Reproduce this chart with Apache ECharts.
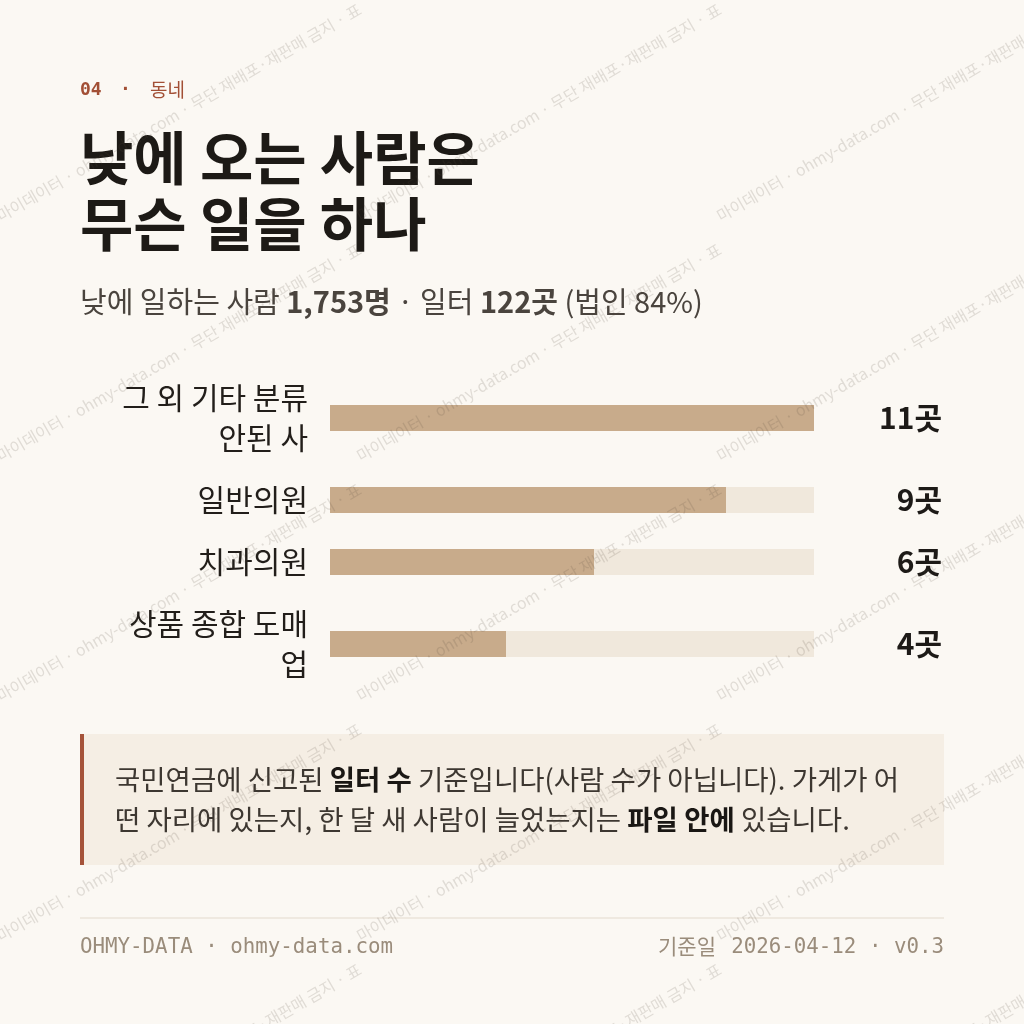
<!DOCTYPE html>
<html>
<head>
<meta charset="utf-8">
<script src="https://cdn.jsdelivr.net/npm/echarts@6/dist/echarts.min.js"></script>
<style>
  html, body { margin: 0; padding: 0; background: #fbf8f3; }
  #chart { width: 1024px; height: 1024px; }
</style>
</head>
<body>
<div id="chart"></div>
<script>
// ---- data ----
const categories = ['그 외 기타 분류 안된 사', '일반의원', '치과의원', '상품 종합 도매업'];
const values = [11, 9, 6, 4];
const valueUnit = '곳';
const valueMax = 11;

const kickerNum = '04';
const kickerText = '동네';
const titleLines = ['낮에 오는 사람은', '무슨 일을 하나'];
const subtitleParts = [
  ['r', '낮에 일하는 사람 '], ['b', '1,753명'], ['r', ' · 일터 '], ['b', '122곳'], ['r', ' (법인 84%)']
];
const noteLines = [
  [['r', '국민연금에 신고된 '], ['b', '일터 수'], ['r', ' 기준입니다(사람 수가 아닙니다). 가게가 어']],
  [['r', '떤 자리에 있는지, 한 달 새 사람이 늘었는지는 '], ['b', '파일 안에'], ['r', ' 있습니다.']]
];
const footerLeft = 'OHMY-DATA · ohmy-data.com';
const footerRightKo = '기준일';
const footerRightMono = '2026-04-12 · v0.3';
const watermarkText = '마이데이터 · ohmy-data.com · 무단 재배포·재판매 금지 · 표';

// ---- layout ----
const KR = '"Noto Sans CJK KR", "Noto Sans", sans-serif';
const MONO = '"DejaVu Sans Mono", "Liberation Mono", monospace';
const rowCenters = [418, 500, 562, 644];
const barLeft = 330, barRight = 814;
const labelFont = '30px ' + KR;
const labelMaxWidth = 198;

// browser-like wrapping (break between Hangul syllables, drop the space at a line end)
const measureCtx = document.createElement('canvas').getContext('2d');
function wrapLabel(text, maxW) {
  measureCtx.font = labelFont;
  const lines = [];
  let cur = '';
  for (const ch of text) {
    const test = cur + ch;
    if (measureCtx.measureText(test.trimEnd()).width > maxW && cur.trim() !== '') {
      lines.push(cur.trimEnd());
      cur = ch === ' ' ? '' : ch;
    } else {
      cur = test;
    }
  }
  if (cur.trim() !== '') lines.push(cur.trimEnd());
  return lines.join('\n');
}

const chart = echarts.init(document.getElementById('chart'), null, { renderer: 'canvas' });

const grids = [], xAxes = [], yAxes = [], series = [];
categories.forEach((c, i) => {
  grids.push({ left: barLeft, right: 1024 - barRight, top: rowCenters[i] - 20, height: 40, containLabel: false });
  xAxes.push({ type: 'value', gridIndex: i, min: 0, max: valueMax, show: false });
  yAxes.push({
    type: 'category', gridIndex: i, data: [c],
    axisLine: { show: false }, axisTick: { show: false }, splitLine: { show: false },
    axisLabel: {
      fontFamily: KR, fontSize: 30, color: '#221e1a', margin: 22,
      lineHeight: 40, align: 'right',
      formatter: (v) => wrapLabel(v, labelMaxWidth)
    }
  });
  yAxes.push({
    type: 'category', gridIndex: i, position: 'right', data: [values[i] + valueUnit],
    axisLine: { show: false }, axisTick: { show: false }, splitLine: { show: false },
    axisLabel: {
      fontFamily: KR, fontSize: 30, fontWeight: 'bold', color: '#1d1a17', margin: 128, align: 'right'
    }
  });
  series.push({
    type: 'bar', xAxisIndex: i, yAxisIndex: 2 * i, data: [values[i]],
    barWidth: 26, itemStyle: { color: '#c8ab8b' },
    showBackground: true, backgroundStyle: { color: '#f0e8dc' },
    silent: true, animation: false
  });
});

function rich(parts) { return parts.map(p => '{' + p[0] + '|' + p[1] + '}').join(''); }
function rs(size, color, bold, family) {
  return { fontFamily: family || KR, fontSize: size, fontWeight: bold ? 'bold' : 'normal', fill: color, color: color };
}

const graphics = [];
// callout
graphics.push({ type: 'rect', shape: { x: 80, y: 734, width: 864, height: 131 }, style: { fill: '#f5eee4' }, z: 0 });
graphics.push({ type: 'rect', shape: { x: 80, y: 734, width: 4, height: 131 }, style: { fill: '#a5533a' }, z: 1 });
noteLines.forEach((ln, k) => {
  graphics.push({
    type: 'text', x: 115, y: 780 + 40 * k, z: 2,
    style: {
      text: rich(ln), textVerticalAlign: 'middle', fill: '#3d3731',
      rich: { r: rs(27.5, '#3d3731', false), b: rs(27.5, '#1a1714', true) }
    }
  });
});
// kicker
graphics.push({ type: 'text', x: 80, y: 90, style: { text: kickerNum, font: 'bold 18px ' + MONO, fill: '#a24f35', textVerticalAlign: 'middle' } });
graphics.push({ type: 'text', x: 120, y: 90, style: { text: '·', font: 'bold 18px ' + MONO, fill: '#a24f35', textVerticalAlign: 'middle' } });
graphics.push({ type: 'text', x: 150, y: 90, style: { text: kickerText, font: '19px ' + KR, fill: '#a24f35', textVerticalAlign: 'middle' } });
// title
titleLines.forEach((t, k) => {
  graphics.push({ type: 'text', x: 80, y: 158 + 66 * k, style: { text: t, font: 'bold 58px ' + KR, fill: '#1d1a16', textVerticalAlign: 'middle' } });
});
// subtitle
graphics.push({
  type: 'text', x: 80, y: 302,
  style: {
    text: rich(subtitleParts), textVerticalAlign: 'middle', fill: '#4a443e',
    rich: { r: rs(29, '#4a443e', false), b: rs(29, '#4a443e', true) }
  }
});
// footer
graphics.push({ type: 'line', shape: { x1: 80, y1: 918, x2: 944, y2: 918 }, style: { stroke: '#ebe4da', lineWidth: 1.5 } });
graphics.push({ type: 'text', x: 80, y: 948, style: { text: footerLeft, font: '20.8px ' + MONO, fill: '#9a8c7b', textVerticalAlign: 'middle' } });
graphics.push({ type: 'text', x: 944, y: 948, style: { text: '\u00a0' + footerRightMono, font: '20.8px ' + MONO, fill: '#9a8c7b', textAlign: 'right', textVerticalAlign: 'middle' } });
graphics.push({ type: 'text', x: 716, y: 946, style: { text: footerRightKo, font: '21px ' + KR, fill: '#9a8c7b', textAlign: 'right', textVerticalAlign: 'middle' } });
// watermark tiles
for (let j = 0; j < 5; j++) {
  for (let i = 0; i < 3; i++) {
    graphics.push({
      type: 'text', x: 360 * i + 2, y: 224 + 240 * j, rotation: Math.PI / 6, z: 100, silent: true,
      style: { text: watermarkText, font: '16px ' + KR, fill: 'rgba(90,75,60,0.16)', textVerticalAlign: 'bottom' }
    });
  }
}

chart.setOption({
  backgroundColor: '#fbf8f3',
  animation: false,
  grid: grids,
  xAxis: xAxes,
  yAxis: yAxes,
  series: series,
  graphic: { elements: graphics }
});
</script>
</body>
</html>
